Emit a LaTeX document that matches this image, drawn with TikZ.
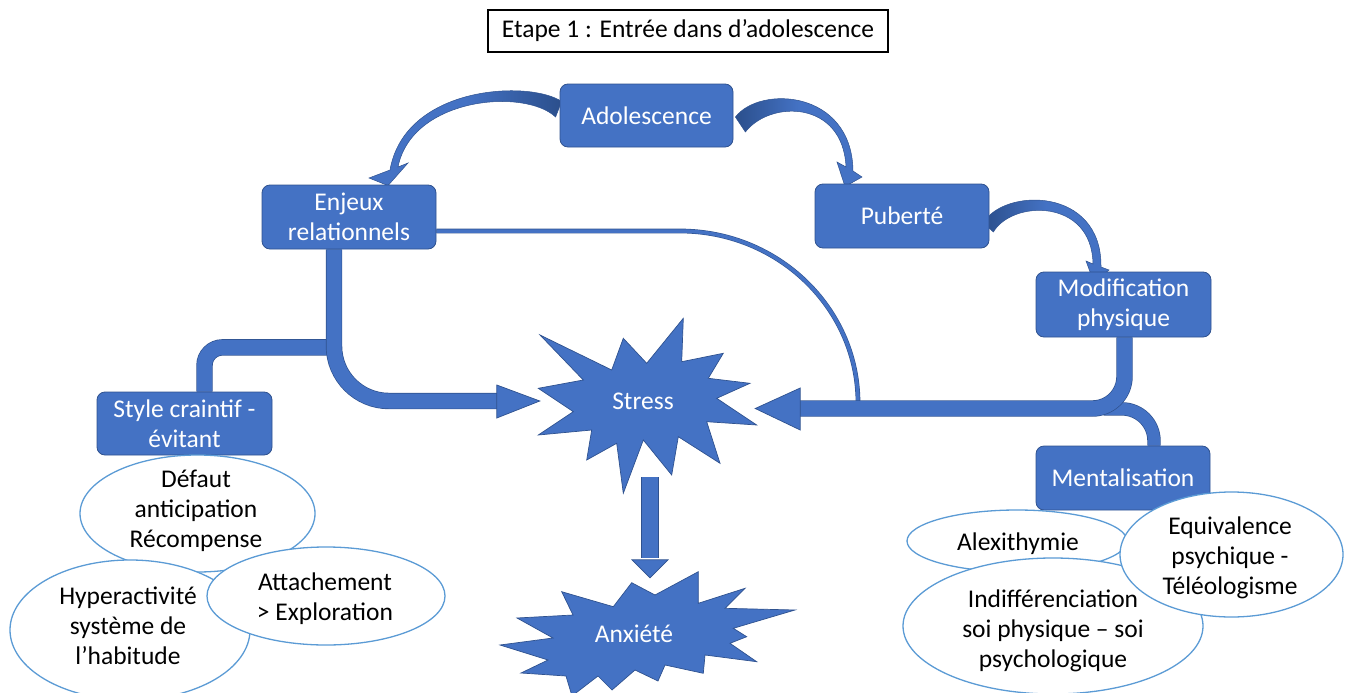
\documentclass[tikz,border=0pt]{standalone}
\usepackage{fontspec}
\setmainfont{Carlito}
\usepackage{tikz}
\usetikzlibrary{calc, backgrounds}

\definecolor{boxblue}{HTML}{4472C4}
\definecolor{boxedge}{HTML}{2F528F}
\definecolor{arrowdark}{HTML}{2B4F8C}
\definecolor{bubbleedge}{HTML}{5B9BD5}

\tikzset{
  etape/.style={draw=black, line width=1.2pt, minimum width=400pt, minimum height=42pt, inner sep=0pt, font=\fontsize{25.5}{30}\selectfont},
  bloc/.style={draw=boxedge, line width=0.8pt, fill=boxblue, rounded corners=8pt, text=white, align=center, minimum width=174pt, minimum height=64pt, inner sep=0pt, font=\fontsize{25.5}{30}\selectfont},
  burst/.style={fill=boxblue, draw=boxedge, line width=0.7pt},
  bursttext/.style={text=white, inner sep=0pt, font=\fontsize{25.5}{30}\selectfont},
  bubble/.style={draw=bubbleedge, line width=1.3pt, fill=white},
  bubbletext/.style={align=center, text=black, inner sep=0pt, font=\fontsize{25.5}{30}\selectfont},
  band/.style={draw=boxedge, line width=0.7pt, double=boxblue, double distance=15pt},
  thinlink/.style={draw=boxedge, line width=0.6pt, double=boxblue, double distance=3.5pt},
  head/.style={fill=boxblue, draw=boxedge, line width=0.7pt},
  curved/.style={draw=boxedge, line width=0.5pt}
}

\begin{document}
\begin{tikzpicture}[x=1pt, y=-1pt]
          \useasboundingbox (0,0) rectangle (1349,693);

          \node [etape] (titre) at (688,31) {Etape 1 : Entrée dans d’adolescence}; % title box

          \node [bloc, minimum width=173pt, minimum height=63pt] (ado) at (646.5,115.5) {Adolescence};
          \node [bloc] (enj) at (349,217) {Enjeux\\relationnels};
          \node [bloc] (pub) at (902,216) {Puberté};
          \node [bloc, minimum width=175pt, minimum height=65pt] (modif) at (1123.5,304.5) {Modification\\physique};
          \node [bloc, minimum width=175pt, minimum height=63pt] (style) at (184.5,423.5) {Style craintif -\\évitant};
          \node [bloc] (ment) at (1123,478) {Mentalisation};

          % Stress burst
          \filldraw [burst] (540,335) -- (611.7,370) -- (623.3,338.3) -- (646.7,363.3) -- (683.3,318.3) -- (681.7,361.7) -- (723.3,353.3) -- (708.3,378.3) -- (750,383.3) -- (716.7,398.3) -- (756.7,425) -- (706.7,421.7) -- (720,463.3) -- (678.3,436.7) -- (671.7,475) -- (643.3,440) -- (623.3,493.3) -- (616.7,443.3) -- (586.7,460) -- (591.7,430) -- (538.3,435) -- (573.3,411.7) -- (538.3,388.3) -- (583.3,380) -- cycle;
          \node [bursttext, minimum width=206pt, minimum height=184pt] (stress) at (643,401) {Stress};

          % Anxiete burst
          \filldraw [burst] (561.7,591.7) -- (613.3,606.7) -- (631.7,582.7) -- (655,595) -- (698.3,571.7) -- (698.3,603.3) -- (745,588.3) -- (725,608.3) -- (795,610) -- (733.3,628.3) -- (746.7,636.7) -- (730,643.3) -- (756.7,661.7) -- (705,655) -- (703.3,673.3) -- (665,665) -- (658,681) -- (635,670) -- (612,690) -- (598,676) -- (572,696) -- (566,676) -- (521,673) -- (548,660) -- (500,645) -- (553,638) -- (517,618) -- (573,615) -- cycle;
          \node [bursttext, minimum height=128pt] (anx) at (634,634) {Anxiété};

          \begin{scope}[on background layer]
          % curved arrows between the boxes
          \shadedraw [curved, left color=boxblue, right color=arrowdark, middle color=boxblue] ($(ado.west)+(2,-14)$) .. controls (530,80) and (405,85) .. (390,170) -- (369,178) -- ($(enj.north)+(39,1)$) -- (408,163) -- (398,167) .. controls (412,97) and (525,88) .. ($(ado.west)+(-4,1.5)$) -- cycle;
          \shadedraw [curved, left color=arrowdark, right color=boxblue, middle color=boxblue] ($(ado.east)+(2,1.5)$) .. controls (760,85) and (852,90) .. (853,171) -- (862,177) -- ($(pub.north)+(-57,3)$) -- (837,162) -- (846,167) .. controls (843,100) and (770,100) .. ($(ado.east)+(12,16.5)$) -- cycle;
          \shadedraw [curved, left color=arrowdark, right color=boxblue, middle color=boxblue] ($(pub.east)+(-6,7)$) .. controls (1003,188) and (1102,186) .. (1101,267) -- (1109,270) -- ($(modif.north)+(-29.5,11)$) -- (1086,261) -- (1093,264) .. controls (1092,198) and (1012,200) .. ($(pub.east)+(4,16)$) -- cycle;

          \draw [thinlink] ($(enj.east)+(0,14)$) -- (680,231) .. controls (778,231) and (858,308) .. (858,403);

          \draw [band, rounded corners=18pt] ($(enj.south)+(-15,98)$) -| ($(style.north)+(20,0)$);
          \draw [band, rounded corners=55pt] ($(enj.south)+(-15,0)$) |- ($(stress.west)+(-40,0)$);
          \filldraw [head] ($(stress.west)+(-43,-16)$) -- (stress.west) -- ($(stress.west)+(-43,17)$) -- cycle;

          \draw [band, double distance=12pt, rounded corners=32pt] ($(modif.south)+(-20,71.5)$) -| ($(ment.north)+(31,0)$);
          \draw [band, rounded corners=32pt] ($(modif.south)+(1,0)$) |- ($(stress.east)+(51,7.5)$);
          \filldraw [head] ($(stress.east)+(54,-13)$) -- ($(stress.east)+(9,7.5)$) -- ($(stress.east)+(54,29)$) -- cycle;

          \draw [band, double distance=16pt] ($(stress.south)+(7,-16)$) -- ($(anx.north)+(16,-12)$);
          \filldraw [head] ($(anx.north)+(-2,-10)$) -- ($(anx.north)+(16,8)$) -- ($(anx.north)+(34,-10)$) -- cycle;
          \end{scope}

          % left bubbles
          \draw [bubble] (197.5,513.5) ellipse [x radius=117.5pt, y radius=58.5pt];
          \node [bubbletext] (defaut) at (196,511) {Défaut\\anticipation\\Récompense};
          \draw [bubble] (130,630) ellipse [x radius=120pt, y radius=70pt];
          \node [bubbletext] (hyper) at (128,626) {Hyperactivité\\système de\\l’habitude};
          \draw [bubble] (326,596) ellipse [x radius=119pt, y radius=49pt];
          \node [bubbletext] (attach) at (325,599) {Attachement\\> Exploration};

          % right bubbles
          \draw [bubble] (1017,541) ellipse [x radius=110pt, y radius=31pt];
          \node [bubbletext] (alexi) at (1018,544) {Alexithymie};
          \draw [bubble] (1053,626) ellipse [x radius=150pt, y radius=68pt];
          \node [bubbletext] (indiff) at (1053,631) {Indifférenciation\\soi physique – soi\\psychologique};
          \draw [bubble] (1231.5,554.5) ellipse [x radius=111.5pt, y radius=62.5pt];
          \node [bubbletext] (equiv) at (1230,558) {Equivalence\\psychique -\\Téléologisme};
        \end{tikzpicture}
\end{document}
